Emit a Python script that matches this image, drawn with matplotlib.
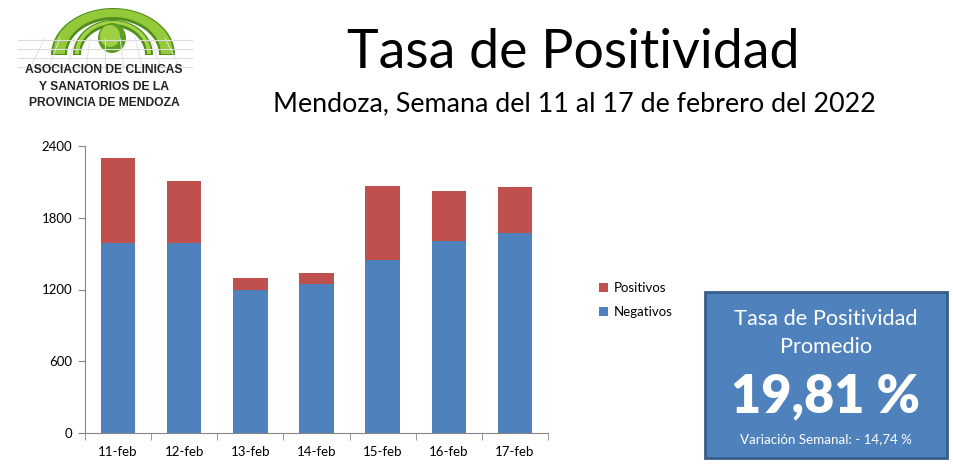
import numpy as np
import matplotlib
matplotlib.use("Agg")
import matplotlib.pyplot as plt
from matplotlib.patches import Polygon, Ellipse, Rectangle

plt.rcParams['font.family'] = ['Lato', 'DejaVu Sans']

# datos
dias = ['11-feb', '12-feb', '13-feb', '14-feb', '15-feb', '16-feb', '17-feb']
negativos = [1589, 1589, 1197, 1242, 1449, 1605, 1675]
positivos = [713, 517, 98, 95, 615, 415, 384]
yticks = [0, 600, 1200, 1800, 2400]

titulo = 'Tasa de Positividad'
subtitulo = 'Mendoza, Semana del 11 al 17 de febrero del 2022'
tasa_prom = '19,81 %'
variacion = 'Variación Semanal: - 14,74 %'
logo_txt = ['ASOCIACION DE CLINICAS', 'Y SANATORIOS DE LA', 'PROVINCIA DE MENDOZA']

AZUL = '#4F81BD'
ROJO = '#C0504D'
W, H = 954, 475

fig = plt.figure(figsize=(W / 100, H / 100), dpi=100)

# capa de fondo en pixeles (logo, titulos, recuadro)
bg = fig.add_axes([0, 0, 1, 1])
bg.set_xlim(0, W)
bg.set_ylim(H, 0)
bg.axis('off')

# logo: rejilla gris + arcos verdes
for yy in [40, 49, 58, 67]:
    bg.plot([18, 192], [yy, yy], color='#dcdcdc', lw=0.8)
for xx in np.linspace(30, 180, 9):
    bg.plot([105 + (xx - 105) * 0.8, xx], [38, 68], color='#e0e0e0', lw=0.7)

def arco(cx, cy, rx_out, ry_out, rx_in, ry_in, color):
    t = np.linspace(0, np.pi, 80)
    outer = np.c_[cx + rx_out * np.cos(t), cy - ry_out * np.sin(t)]
    inner = np.c_[cx + rx_in * np.cos(t[::-1]), cy - ry_in * np.sin(t[::-1])]
    bg.add_patch(Polygon(np.vstack([outer, inner]), closed=True, fc=color, ec='none'))

arco(113, 55, 62, 47, 46, 35, '#4f8f1c')
arco(113, 54, 60, 45, 48, 37, '#94c93a')
arco(113, 55, 40, 35, 32, 28, '#4f8f1c')
arco(113, 54, 38, 33, 34, 30, '#a5d347')
bg.add_patch(Ellipse((112, 38), 28, 30, fc='#5e9d24', ec='none'))
bg.add_patch(Ellipse((110, 36), 20, 22, fc='#9fd044', ec='none'))

for i, s in enumerate(logo_txt):
    bg.text(104, 70 + i * 16.5, s, ha='center', va='center', fontsize=8.7,
            fontweight='bold', family='Liberation Sans', color='#222222')

bg.text(573, 52, titulo, ha='center', va='center', fontsize=38.7, color='black')
bg.text(574, 104, subtitulo, ha='center', va='center', fontsize=19.4, color='black')

# recuadro de tasa promedio
bg.add_patch(Rectangle((705, 292), 242, 166, fc=AZUL, ec='#385D8A', lw=2))
bg.text(826, 319, 'Tasa de Positividad', ha='center', va='center', fontsize=15.7, color='white')
bg.text(826, 347, 'Promedio', ha='center', va='center', fontsize=15.7, color='white')
bg.text(826, 397, tasa_prom, ha='center', va='center', fontsize=37.5, fontweight='heavy', color='white')
bg.text(826, 439, variacion, ha='center', va='center', fontsize=9.6, color='white')

# grafico de barras apiladas
ax = fig.add_axes([85 / W, (H - 433) / H, 463 / W, 287 / H])
x = np.arange(len(dias))
b1 = ax.bar(x, negativos, width=0.52, color=AZUL, label='Negativos')
b2 = ax.bar(x, positivos, width=0.52, bottom=negativos, color=ROJO, label='Positivos')
ax.set_xlim(-0.5, len(dias) - 0.5)
ax.set_ylim(0, 2400)
ax.set_yticks(yticks)
ax.set_xticks(x)
ax.set_xticklabels(dias)
ax.set_xticks(np.arange(-0.5, len(dias)), minor=True)
ax.tick_params(axis='x', which='major', length=0, pad=9, labelsize=9.5)
ax.tick_params(axis='x', which='minor', length=5, color='#868686', direction='out')
ax.tick_params(axis='y', length=5, color='#868686', labelsize=9.5, pad=4)
for s in ['top', 'right']:
    ax.spines[s].set_visible(False)
for s in ['left', 'bottom']:
    ax.spines[s].set_color('#868686')

ax.legend([b2, b1], ['Positivos', 'Negativos'], loc='center left',
          bbox_to_anchor=(587 / W, (H - 300) / H), bbox_transform=fig.transFigure,
          frameon=False, fontsize=9.5, handlelength=0.7, handleheight=0.7,
          handletextpad=0.4, labelspacing=0.9)

fig.savefig('out.png', dpi=100)
